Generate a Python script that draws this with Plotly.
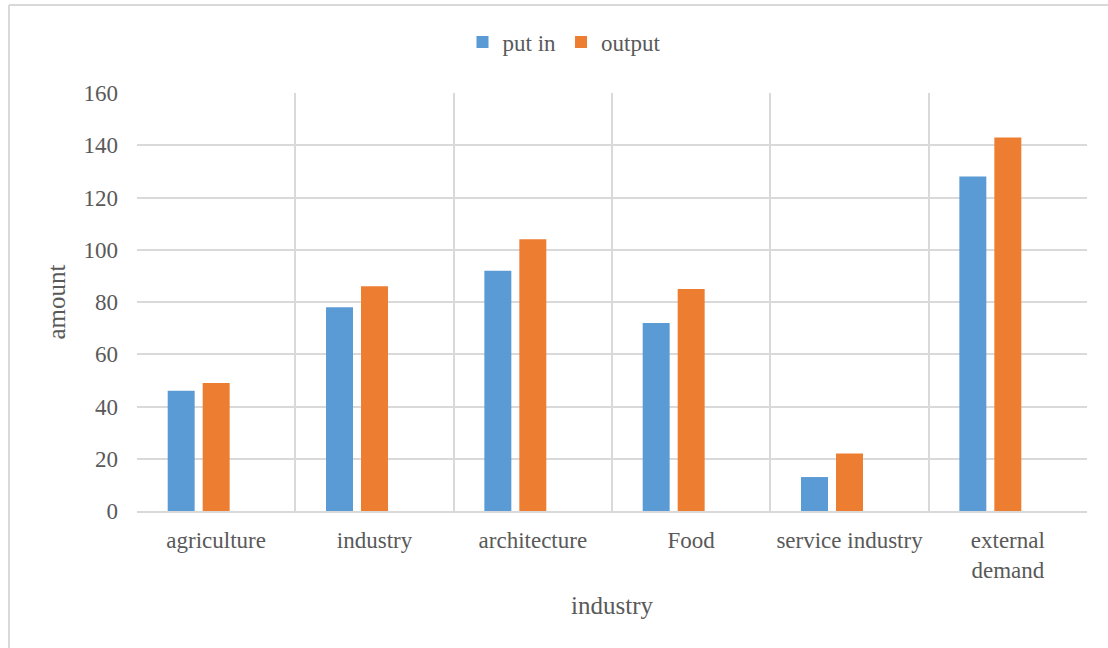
import plotly.graph_objects as go

categories = ["agriculture", "industry", "architecture", "Food", "service industry", "external<br>demand"]
put_in = [46, 78, 92, 72, 13, 128]
output = [49, 86, 104, 85, 22, 143]
blank = [0, 0, 0, 0, 0, 0]
y_ticks = [0, 20, 40, 60, 80, 100, 120, 140, 160]

FONT = "Times New Roman, Liberation Serif, serif"
TXT = "#595959"
GRID = "#d9d9d9"

fig = go.Figure()
fig.add_trace(go.Bar(name="put in", x=categories, y=put_in, marker=dict(color="#5b9bd5", line=dict(width=0))))
fig.add_trace(go.Bar(name="output", x=categories, y=output, marker=dict(color="#ed7d31", line=dict(width=0))))
fig.add_trace(go.Bar(name="", x=categories, y=blank, showlegend=False, opacity=0,
                     marker=dict(color="white", line=dict(width=0)), hoverinfo="skip"))

L, R, T, B = 137, 1087, 93, 511
W, H = 1108, 648

def px(x):
    return (x - L) / (R - L)

def py(y):
    return (B - y) / (B - T)

fig.update_layout(
    width=W, height=H,
    margin=dict(l=L, r=W - R, t=T, b=H - B, autoexpand=False),
    paper_bgcolor="white", plot_bgcolor="white",
    barmode="group", bargap=0.337, bargroupgap=0.229,
    font=dict(family=FONT, color=TXT, size=23),
    showlegend=True,
    legend=dict(orientation="h", x=px(564), xanchor="center", y=py(42), yanchor="middle",
                font=dict(size=23, color=TXT, family=FONT), itemwidth=30, tracegroupgap=0,
                bgcolor="rgba(0,0,0,0)"),
    xaxis=dict(type="category", tickson="boundaries", showgrid=True, gridcolor=GRID, gridwidth=1.5,
               showline=True, linecolor=GRID, linewidth=1.5, ticks="", range=[-0.5, 5.5],
               tickfont=dict(size=23, color=TXT, family=FONT), ticklabelstandoff=8,
               title=dict(text="industry", font=dict(size=25, color=TXT, family=FONT), standoff=14)),
    yaxis=dict(range=[0, 160], tickvals=y_ticks, showgrid=True, gridcolor=GRID, gridwidth=1.5,
               zeroline=False, showline=False, ticks="", ticklabelstandoff=18,
               tickfont=dict(size=23, color=TXT, family=FONT),
               title=dict(text="amount", font=dict(size=25, color=TXT, family=FONT), standoff=10)),
    shapes=[
        dict(type="line", xref="paper", yref="paper", x0=px(9), x1=px(1120), y0=py(5), y1=py(5),
             line=dict(color=GRID, width=2)),
        dict(type="line", xref="paper", yref="paper", x0=px(9), x1=px(9), y0=py(5), y1=py(660),
             line=dict(color=GRID, width=2)),
    ],
)

fig.write_html("out.html")
